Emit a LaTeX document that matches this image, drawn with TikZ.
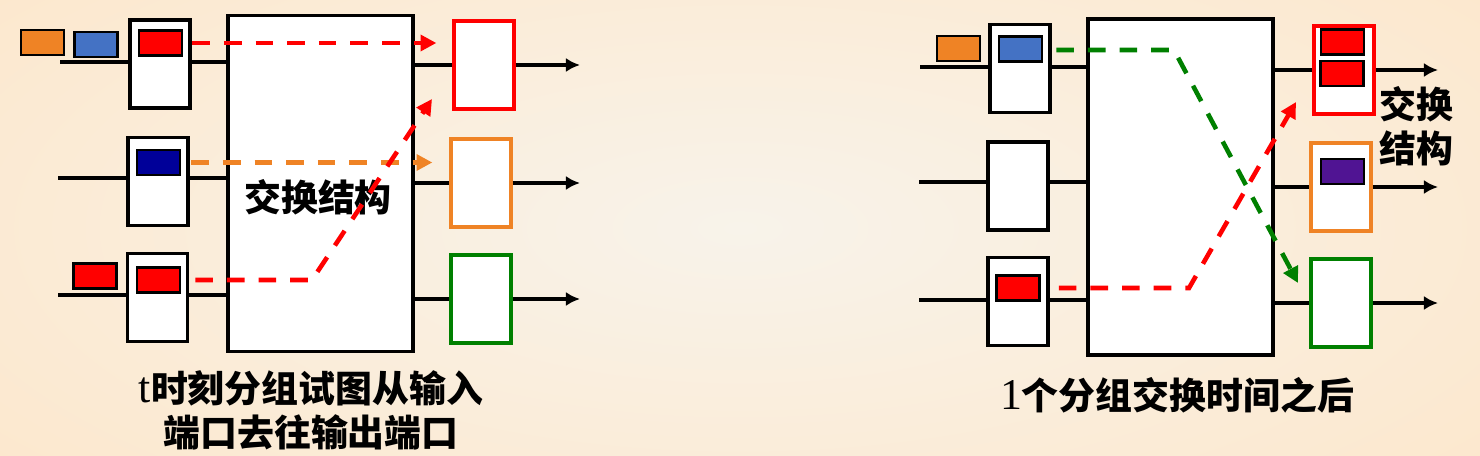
\documentclass[tikz,border=0pt]{standalone}
\usepackage{fontspec}
\setmainfont{Liberation Serif}
\newfontfamily\cjk{Noto Sans CJK SC}
\usetikzlibrary{arrows.meta}
\definecolor{bgin}{HTML}{F8F3EA}
\definecolor{bgout}{HTML}{FCE8CE}
\definecolor{pktorange}{HTML}{EF8325}
\definecolor{pktblue}{HTML}{4472C4}
\definecolor{pktnavy}{HTML}{000099}
\definecolor{pktpurple}{HTML}{501493}
\definecolor{okgreen}{HTML}{008000}
\tikzset{
  buf/.style={draw, line width=1.9pt, fill=white, minimum width=1.2cm, minimum height=1.76cm, inner sep=0pt},
  fabric/.style={draw, line width=1.9pt, fill=white, minimum width=3.7cm, minimum height=6.72cm, inner sep=0pt},
  pkt/.style={draw, line width=1.5pt, minimum width=0.86cm, minimum height=0.5cm, inner sep=0pt},
  wire/.style={line width=1.9pt},
  flow/.style={line width=2.6pt, dash pattern=on 10pt off 8pt, -{Triangle[length=9pt,width=9pt]}},
  lbl/.style={font=\cjk\bfseries\fontsize{21}{25}\selectfont, align=center, inner sep=0pt}
}
\newcommand\latn[1]{{\normalfont\fontsize{25}{25}\selectfont #1}}
\begin{document}
\begin{tikzpicture}[x=0.02cm, y=-0.02cm, >={Latex[length=8pt,width=8pt]}]
\useasboundingbox (0,0) rectangle (1480,456);
\shade[inner color=bgin, outer color=bgout] (-200,-150) rectangle (1680,606);

% time t
\node[fabric] (fab1) at (320.5,183.5) {};
\node[lbl] (fab1txt) at (318,197) {交换结构};
\node[buf] (in1) at (160,64) {};
\node[buf] (in2) at (158,181.5) {};
\node[buf] (in3) at (157.5,297.5) {};
\node[buf, draw=red] (out1) at (484,65) {};
\node[buf, draw=pktorange] (out2) at (481,183) {};
\node[buf, draw=okgreen] (out3) at (481,299) {};
\node[pkt, fill=pktorange] (pa) at (42.5,42.5) {};
\node[pkt, fill=pktblue] (pb) at (96,44.5) {};
\node[pkt, fill=red] (p1) at (160.5,43) {};
\node[pkt, fill=pktnavy] (p2) at (158.5,162.5) {};
\node[pkt, fill=red] (p3) at (158.5,280) {};
\node[pkt, fill=red] (p4) at (95,276) {};
\coordinate (a1) at (60,62);
\coordinate (a2) at (58,178);
\coordinate (a3) at (58,295);
\coordinate (e1) at (580,63);
\draw[wire] (a1) -- (in1.west |- a1);
\draw[wire] (a2) -- (in2.west |- a2);
\draw[wire] (a3) -- (in3.west |- a3);
\draw[wire] (in1.east |- a1) -- (fab1.west |- a1);
\draw[wire] (in2.east |- a2) -- (fab1.west |- a2);
\draw[wire] (in3.east |- a3) -- (fab1.west |- a3);
\draw[wire] (fab1.east |- out1) -- (out1.west);
\draw[wire] (fab1.east |- out2) -- (out2.west);
\draw[wire] (fab1.east |- out3) -- (out3.west);
\draw[wire,->] (out1.east) -- (out1.east -| e1);
\draw[wire,->] (out2.east) -- (out2.east -| e1);
\draw[wire,->] (out3.east) -- (out3.east -| e1);
\coordinate (b1) at (312,280);
\coordinate (t1) at (432,99);
\draw[flow, red, shorten <=0.18cm, shorten >=0.32cm] (p1.east) -- (p1.east -| out1.west);
\draw[flow, pktorange, shorten <=0.2cm, shorten >=0.34cm] (p2.east) -- (p2.east -| out2.west);
\draw[flow, red, shorten <=0.28cm] (p3.east) -- (b1) -- (t1);
\node[lbl] (cap1) at (311,410) {\latn{t}时刻分组试图从输入\\端口去往输出端口};

% one packet time later
\node[fabric] (fab2) at (1180.5,187) {};
\node[buf] (in4) at (1020,68.5) {};
\node[buf] (in5) at (1018,186) {};
\node[buf] (in6) at (1018,301.5) {};
\node[buf, draw=red] (out4) at (1344,70) {};
\node[buf, draw=pktorange] (out5) at (1341,187) {};
\node[buf, draw=okgreen] (out6) at (1341,303) {};
\node[pkt, fill=pktorange] (pc) at (958.5,48.5) {};
\node[pkt, fill=pktblue] (p5) at (1020.5,49) {};
\node[pkt, fill=red] (p6) at (1018,288) {};
\node[pkt, fill=red] (p7) at (1342.5,42) {};
\node[pkt, fill=red] (p8) at (1342,73.5) {};
\node[pkt, fill=pktpurple] (p9) at (1342.5,171.5) {};
\coordinate (a4) at (920,67);
\coordinate (a5) at (919,182);
\coordinate (a6) at (919,300);
\coordinate (e2) at (1438,68);
\draw[wire] (a4) -- (in4.west |- a4);
\draw[wire] (a5) -- (in5.west |- a5);
\draw[wire] (a6) -- (in6.west |- a6);
\draw[wire] (in4.east |- a4) -- (fab2.west |- a4);
\draw[wire] (in5.east |- a5) -- (fab2.west |- a5);
\draw[wire] (in6.east |- a6) -- (fab2.west |- a6);
\draw[wire] (fab2.east |- out4) -- (out4.west);
\draw[wire] (fab2.east |- out5) -- (out5.west);
\draw[wire] (fab2.east |- out6) -- (out6.west);
\draw[wire,->] (out4.east) -- (out4.east -| e2);
\draw[wire,->] (out5.east) -- (out5.east -| e2);
\draw[wire,->] (out6.east) -- (out6.east -| e2);
\node[lbl] (fab2txt) at (1416,126) {交换\\结构};
\coordinate (b2) at (1174,50);
\coordinate (t2) at (1298,283);
\coordinate (b3) at (1189,288);
\coordinate (t3) at (1296,102);
\draw[flow, okgreen, shorten <=0.26cm] (p5.east |- b2) -- (b2) -- (t2);
\draw[flow, red, shorten <=0.36cm] (p6.east) -- (b3) -- (t3);
\node[lbl] (cap2) at (1177,395) {\latn{1}个分组交换时间之后};
\end{tikzpicture}
\end{document}
